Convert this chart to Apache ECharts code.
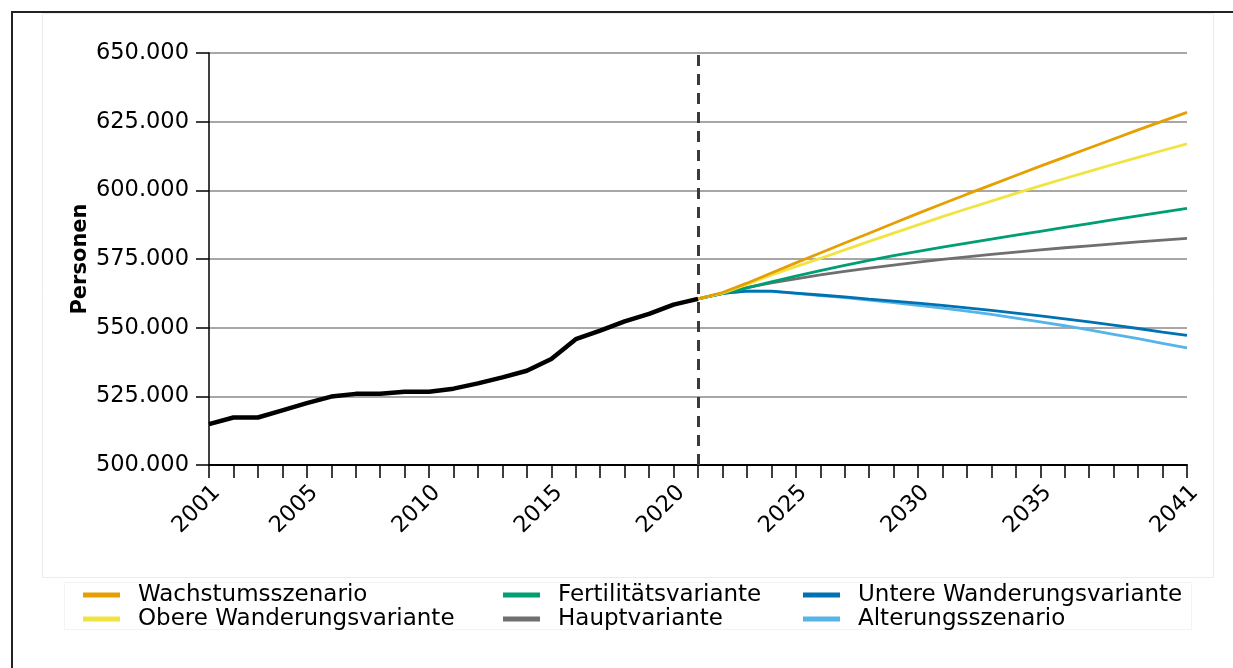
<!DOCTYPE html>
<html>
<head>
<meta charset="utf-8">
<script src="https://cdn.jsdelivr.net/npm/echarts@6/dist/echarts.min.js"></script>
<style>
  html, body { margin: 0; padding: 0; background: #fff; }
  #chart { width: 1233px; height: 668px; }
</style>
</head>
<body>
<div id="chart"></div>
<script>
// Jahre 2001 bis 2041
const years = ['2001','2002','2003','2004','2005','2006','2007','2008','2009','2010',
  '2011','2012','2013','2014','2015','2016','2017','2018','2019','2020','2021',
  '2022','2023','2024','2025','2026','2027','2028','2029','2030','2031',
  '2032','2033','2034','2035','2036','2037','2038','2039','2040','2041']
const labelYears = ['2001','2005','2010','2015','2020','2025','2030','2035','2041']

// Bestand 2001-2021
const bestand = [514900, 517300, 517300, 519900, 522500, 524900, 525900, 525900, 526700, 526700,
  527800, 529700, 531900, 534300, 538600, 545800, 548900, 552300, 555000, 558400, 560500]

// Vorausberechnung 2021-2041
const wachstum = [560500, 562800, 566200, 569900, 573600, 577200, 580800, 584400, 588000, 591600,
  595100, 598600, 602000, 605400, 608800, 612100, 615400, 618700, 622000, 625200, 628400]
const obere = [560500, 562600, 565700, 569200, 572200, 575200, 578300, 581400, 584400, 587400,
  590400, 593300, 596100, 598900, 601600, 604300, 606900, 609500, 612000, 614500, 616900]
const fertil = [560500, 562400, 564500, 566700, 568800, 570800, 572700, 574500, 576200, 577800,
  579300, 580800, 582200, 583700, 585100, 586500, 587900, 589300, 590700, 592100, 593400]
const haupt = [560500, 562500, 564600, 566300, 567800, 569200, 570500, 571700, 572800, 573900,
  574900, 575800, 576700, 577500, 578300, 579100, 579800, 580500, 581200, 581900, 582500]
const untere = [560500, 562500, 563300, 563300, 562600, 561900, 561200, 560400, 559700, 558900,
  558100, 557200, 556300, 555300, 554300, 553200, 552100, 550900, 549700, 548400, 547200]
const alterung = [560500, 562500, 563300, 563200, 562500, 561700, 560900, 560000, 559100, 558100,
  557100, 556000, 554800, 553500, 552100, 550700, 549200, 547600, 546000, 544300, 542600]

const font = 'DejaVu Sans'
const pad = arr => Array(years.length - arr.length).fill(null).concat(arr)

function projLine(name, data, color) {
  return {
    name: name,
    type: 'line',
    data: pad(data),
    symbol: 'none',
    lineStyle: { color: color, width: 2.8 },
    itemStyle: { color: color },
    z: 3
  }
}

function legendCol(items, left) {
  return {
    orient: 'vertical',
    left: left,
    top: 583,
    padding: 0,
    itemGap: 0,
    itemWidth: 37,
    itemHeight: 5,
    icon: 'rect',
    data: items,
    textStyle: {
      fontFamily: font,
      fontSize: 23,
      color: '#000',
      lineHeight: 24,
      padding: [0, 0, 0, 13]
    }
  }
}

const chart = echarts.init(document.getElementById('chart'))
chart.setOption({
  animation: false,
  backgroundColor: '#fff',
  graphic: [
    { type: 'rect', shape: { x: 12, y: 12, width: 1300, height: 700 },
      style: { fill: 'none', stroke: '#222', lineWidth: 2 }, silent: true },
    { type: 'rect', shape: { x: 42.5, y: 13.5, width: 1171, height: 564 },
      style: { fill: 'none', stroke: '#ececec', lineWidth: 1 }, silent: true },
    { type: 'rect', shape: { x: 64.5, y: 582.5, width: 1127, height: 47 },
      style: { fill: 'none', stroke: '#f3f3f3', lineWidth: 1 }, silent: true }
  ],
  grid: { left: 209, right: 46, top: 53, bottom: 203 },
  legend: [
    legendCol(['Wachstumsszenario', 'Obere Wanderungsvariante'], 83),
    legendCol(['Fertilitätsvariante', 'Hauptvariante'], 503),
    legendCol(['Untere Wanderungsvariante', 'Alterungsszenario'], 803)
  ],
  xAxis: {
    type: 'category',
    data: years,
    boundaryGap: false,
    axisLine: { lineStyle: { color: '#000', width: 2 } },
    axisTick: { interval: 0, length: 13, lineStyle: { color: '#000', width: 1.5 } },
    axisLabel: {
      interval: (i, v) => labelYears.includes(v),
      rotate: 45,
      margin: 32,
      padding: [0, -11, 0, 0],
      fontFamily: font,
      fontSize: 22.5,
      color: '#000'
    },
    splitLine: { show: false }
  },
  yAxis: {
    type: 'value',
    min: 500000,
    max: 650000,
    interval: 25000,
    name: 'Personen',
    nameLocation: 'middle',
    nameGap: 118,
    nameMoveOverlap: false,
    nameTextStyle: { fontFamily: font, fontSize: 21, fontWeight: 'bold', color: '#000' },
    axisLine: { show: true, lineStyle: { color: '#000', width: 1.5 } },
    axisTick: { show: true, length: 13, lineStyle: { color: '#000', width: 1.5 } },
    axisLabel: {
      margin: 20,
      fontFamily: font,
      fontSize: 22.5,
      color: '#000',
      formatter: v => String(v).replace(/\B(?=(\d{3})+(?!\d))/g, '.')
    },
    splitLine: { lineStyle: { color: '#8a8a8a', width: 1.5 } }
  },
  series: [
    projLine('Alterungsszenario', alterung, '#56B4E9'),
    projLine('Untere Wanderungsvariante', untere, '#0072B2'),
    projLine('Hauptvariante', haupt, '#6f6f6f'),
    projLine('Fertilitätsvariante', fertil, '#009E73'),
    projLine('Obere Wanderungsvariante', obere, '#F0E442'),
    projLine('Wachstumsszenario', wachstum, '#E69F00'),
    {
      name: 'Bestand',
      type: 'line',
      data: bestand.concat(Array(years.length - bestand.length).fill(null)),
      symbol: 'none',
      lineStyle: { color: '#000', width: 4.5 },
      itemStyle: { color: '#000' },
      z: 4,
      markLine: {
        silent: true,
        symbol: 'none',
        label: { show: false },
        lineStyle: { color: '#3a3a3a', width: 3, type: [11, 8] },
        data: [{ xAxis: '2021' }]
      }
    }
  ]
})
</script>
</body>
</html>
